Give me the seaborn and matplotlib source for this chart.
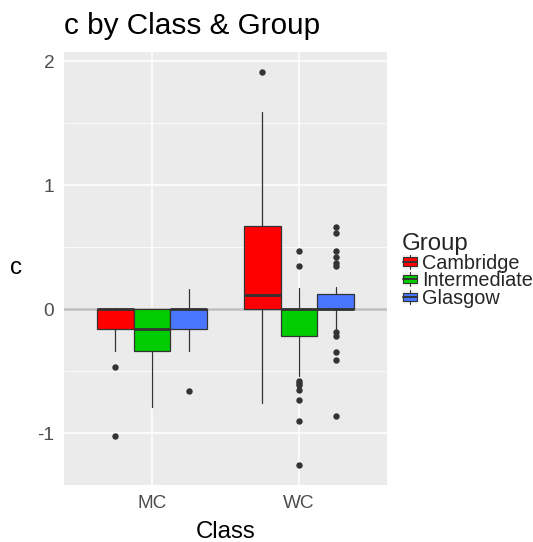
import matplotlib
matplotlib.use("Agg")
import matplotlib.pyplot as plt
import seaborn as sns
from matplotlib.patches import Rectangle
from matplotlib.lines import Line2D
from matplotlib.legend_handler import HandlerBase

# ---------------- data ----------------
classes = ["MC", "WC"]
groups = ["Cambridge", "Intermediate", "Glasgow"]
group_colors = ["#FF0000", "#00CD00", "#4876FF"]

mc_q1 = [-0.16, -0.34, -0.16]
mc_med = [0.0, -0.16, 0.0]
mc_q3 = [0.0, 0.0, 0.0]
mc_whislo = [-0.34, -0.79, -0.34]
mc_whishi = [0.01, 0.0, 0.16]
mc_fliers = [[-0.47, -1.02], [], [-0.66]]

wc_q1 = [0.0, -0.215, 0.0]
wc_med = [0.115, 0.0, 0.0]
wc_q3 = [0.67, 0.0, 0.12]
wc_whislo = [-0.76, -0.54, -0.16]
wc_whishi = [1.59, 0.17, 0.18]
wc_fliers = [
    [1.91],
    [0.47, 0.35, -0.58, -0.60, -0.615, -0.65, -0.73, -0.90, -1.26],
    [0.66, 0.61, 0.47, 0.42, 0.37, 0.35, -0.185, -0.22, -0.35, -0.41, -0.86],
]

y_ticks = [-1, 0, 1, 2]
y_tick_labels = ["-1", "0", "1", "2"]

# ---------------- style ----------------
sns.set_theme(style="darkgrid", rc={
    "axes.facecolor": "#EBEBEB",
    "grid.color": "white",
})
plt.rcParams["font.family"] = ["Liberation Sans", "DejaVu Sans"]

W, H = 533, 542
fig = plt.figure(figsize=(W / 100, H / 100), dpi=100)
ax = fig.add_axes([64 / W, 1 - 485 / H, (387 - 64) / W, (485 - 52) / H])
ax.set_facecolor("#EBEBEB")

ax.set_xlim(-0.6, 1.6)
ax.set_ylim(-1.419, 2.073)

# grid
ax.set_yticks(y_ticks)
ax.set_yticklabels(y_tick_labels)
ax.set_yticks([-0.5, 0.5, 1.5], minor=True)
ax.set_xticks([0, 1])
ax.set_xticklabels(classes)
ax.grid(which="major", color="white", linewidth=1.1)
ax.grid(which="minor", axis="y", color="white", linewidth=0.55)
ax.set_axisbelow(True)
for s in ax.spines.values():
    s.set_visible(False)

# zero reference line
ax.axhline(0, color="#BEBEBE", linewidth=1.8, zorder=1.5)

edge = "#333333"
width = 0.25
offsets = [-0.25, 0.0, 0.25]
tables = [
    (mc_q1, mc_med, mc_q3, mc_whislo, mc_whishi, mc_fliers),
    (wc_q1, wc_med, wc_q3, wc_whislo, wc_whishi, wc_fliers),
]
for ci, (q1, med, q3, lo, hi, fl) in enumerate(tables):
    for gi in range(len(groups)):
        stats = [dict(q1=q1[gi], med=med[gi], q3=q3[gi], whislo=lo[gi],
                      whishi=hi[gi], fliers=fl[gi], label=groups[gi])]
        ax.bxp(stats, positions=[ci + offsets[gi]], widths=width,
               patch_artist=True, showcaps=False, manage_ticks=False,
               boxprops=dict(facecolor=group_colors[gi], edgecolor=edge, linewidth=0.9),
               medianprops=dict(color=edge, linewidth=2.0),
               whiskerprops=dict(color=edge, linewidth=0.9),
               flierprops=dict(marker="o", markerfacecolor=edge, markeredgecolor=edge,
                               markersize=3.6, linestyle="none"),
               zorder=3)

# ticks and labels
ax.tick_params(axis="both", which="major", length=4, width=1, color="#333333",
               labelcolor="#4D4D4D", labelsize=13.7, pad=3)
ax.tick_params(axis="y", which="minor", length=0)
ax.set_xlabel("Class", fontsize=17.3, color="black", labelpad=7)
ax.set_ylabel("c", fontsize=17.3, color="black", rotation=0, va="center")
ax.yaxis.set_label_coords(-0.149, 0.5)

fig.text(64 / W, 1 - 34 / H, "c by Class & Group", fontsize=21.4, color="black",
         ha="left", va="baseline")


# legend with mini-boxplot keys
class BoxKeyHandler(HandlerBase):
    def create_artists(self, legend, orig_handle, xdescent, ydescent, width, height,
                       fontsize, trans):
        fc = orig_handle.get_facecolor()
        bg = Rectangle((-xdescent, -ydescent), width, height, facecolor="#F2F2F2",
                       edgecolor="none", transform=trans)
        vline = Line2D([-xdescent + width / 2] * 2, [-ydescent, -ydescent + height],
                       color=edge, linewidth=0.8, transform=trans)
        bx = Rectangle((-xdescent + width * 0.06, -ydescent + height * 0.2),
                       width * 0.88, height * 0.6, facecolor=fc, edgecolor=edge,
                       linewidth=0.8, transform=trans)
        med = Line2D([-xdescent + width * 0.06, -xdescent + width * 0.94],
                     [-ydescent + height / 2] * 2, color=edge, linewidth=1.4,
                     transform=trans)
        return [bg, vline, bx, med]


handles = [Rectangle((0, 0), 1, 1, facecolor=c) for c in group_colors]
leg = fig.legend(handles, groups, title="Group", loc="upper left",
                 bbox_to_anchor=(402 / W, 1 - 233 / H), frameon=False,
                 fontsize=14.3, title_fontsize=17.3, labelspacing=-0.07,
                 handlelength=0.8, handleheight=0.7, handletextpad=0.22,
                 borderpad=0, borderaxespad=0,
                 handler_map={Rectangle: BoxKeyHandler()})
leg._legend_box.align = "left"

fig.savefig("out.png", dpi=100)
